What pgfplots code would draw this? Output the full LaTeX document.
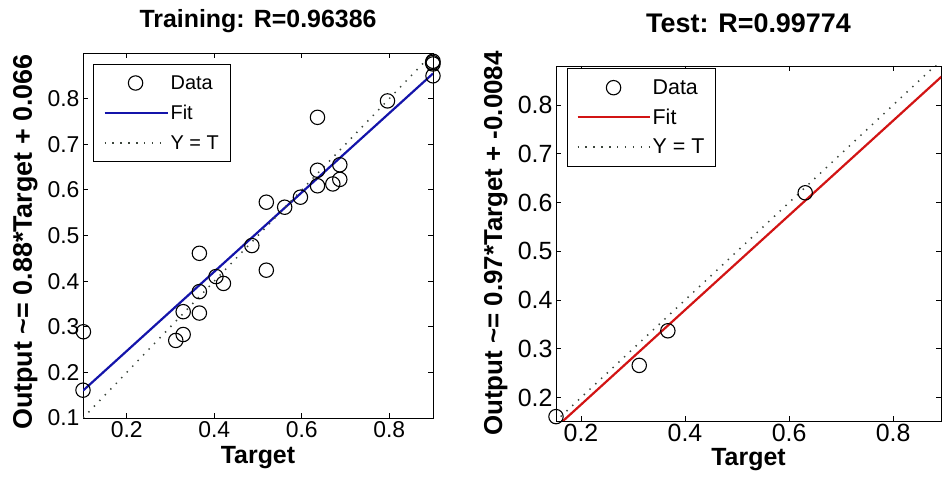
\documentclass[border=0pt]{standalone}
\usepackage{fontspec}
\setmainfont{Liberation Sans}
\usepackage{pgfplots}
\pgfplotsset{compat=1.18}
\definecolor{fitblue}{RGB}{20,20,170}
\definecolor{fitred}{RGB}{210,20,20}
\definecolor{dotgray}{RGB}{60,70,60}

\pgfplotsset{
  regstyle/.style={
    scale only axis,
    clip=true,
    axis line style={line width=0.9bp},
    every tick/.style={line width=0.8bp, black},
    major tick length=5bp,
    /pgf/number format/assume math mode=true,
    xlabel style={at={(axis description cs:0.5,0)}, anchor=base, yshift=-45bp, font=\bfseries\fontsize{25}{30}\selectfont},
    legend cell align=left,
    legend style={anchor=north west, draw=black, line width=0.9bp,
      inner xsep=10bp, inner ysep=9bp, row sep=10.5bp,
      font=\fontsize{20}{24}\selectfont},
  },
  datastyle/.style 2 args={only marks, mark=o, mark size=7.2bp, mark options={line width=1.1bp, draw=black}, black,
    legend image code/.code={\path (0bp,0bp) (#2,0bp); \draw[##1] plot coordinates {(#1,0bp)};}},
  fitstyle/.style={line width=2.2bp, no marks,
    legend image code/.code={\draw[##1] (0bp,0bp) -- (#1,0bp);}},
  ytstyle/.style={line width=1.5bp, dotgray, dash pattern=on 1.4bp off 6.5bp, no marks,
    legend image code/.code={\draw[##1] (0bp,0bp) -- (#1,0bp);}},
}

\begin{document}
\begin{tikzpicture}
% ---------------- Training ----------------
\begin{axis}[regstyle,
  at={(83bp,66bp)}, anchor=south west,
  width=350bp, height=365bp,
  xmin=0.1, xmax=0.9, ymin=0.1, ymax=0.9,
  xtick={0.2,0.4,0.6,0.8}, ytick={0.1,0.2,0.3,0.4,0.5,0.6,0.7,0.8},
  tick label style={font=\fontsize{23}{26}\selectfont},
  title={Training: R=0.96386},
  title style={at={(0.5,1)}, anchor=base, yshift=20bp, font=\bfseries\fontsize{25}{30}\selectfont},
  xlabel={Target},
  ylabel={Output {\textasciitilde}= 0.88*Target + 0.066},
  ylabel style={at={(axis description cs:-0.146,0.482)}, anchor=base, font=\bfseries\fontsize{27}{32}\selectfont},
  legend style={at={(axis description cs:0.0286,0.970)}},
]
\addplot[datastyle={31bp}{63bp}] coordinates {
(0.101,0.289) (0.100,0.161) (0.312,0.270) (0.329,0.283) (0.329,0.333)
(0.366,0.461) (0.366,0.377) (0.366,0.330) (0.404,0.410) (0.421,0.395)
(0.486,0.478) (0.519,0.424) (0.519,0.573) (0.561,0.562) (0.597,0.584)
(0.636,0.759) (0.636,0.643) (0.636,0.609) (0.671,0.613) (0.687,0.623)
(0.687,0.655) (0.796,0.795) (0.900,0.850) (0.900,0.876) (0.900,0.882)
(0.899,0.879)
};
\addlegendentry{Data}
\addplot[fitstyle=63bp, fitblue] coordinates {(0.1,0.160) (0.9,0.855)};
\addlegendentry{Fit}
\addplot[ytstyle=63bp] coordinates {(0.1,0.1) (0.9,0.9)};
\addlegendentry{Y = T}
\end{axis}

% ---------------- Test ----------------
\begin{axis}[regstyle,
  at={(556bp,63bp)}, anchor=south west,
  width=385bp, height=355bp,
  xmin=0.152, xmax=0.892, ymin=0.152, ymax=0.88,
  xtick={0.2,0.4,0.6,0.8}, ytick={0.2,0.3,0.4,0.5,0.6,0.7,0.8},
  tick label style={font=\fontsize{25}{28}\selectfont},
  title={Test: R=0.99774},
  title style={at={(0.5,1)}, anchor=base, yshift=28bp, font=\bfseries\fontsize{27}{32}\selectfont},
  xlabel={Target},
  xlabel style={yshift=1bp},
  ylabel={Output {\textasciitilde}= 0.97*Target + -0.0084},
  ylabel style={at={(axis description cs:-0.140,0.5)}, anchor=base, font=\bfseries\fontsize{26}{31}\selectfont},
  legend style={at={(axis description cs:0.0286,0.994)}, font=\fontsize{21.5}{25}\selectfont, inner xsep=9bp, inner ysep=9bp, row sep=9bp},
]
\addplot[datastyle={36bp}{72bp}] coordinates {
(0.152,0.161) (0.312,0.266) (0.367,0.337) (0.631,0.620) (0.894,0.862)
};
\addlegendentry{Data}
\addplot[fitstyle=72bp, fitred] coordinates {(0.15,0.137) (0.9,0.865)};
\addlegendentry{Fit}
\addplot[ytstyle=72bp] coordinates {(0.15,0.15) (0.9,0.9)};
\addlegendentry{Y = T}
\end{axis}
\pgfresetboundingbox
\path (0bp,0bp) rectangle (943bp,484bp);
\end{tikzpicture}
\end{document}
